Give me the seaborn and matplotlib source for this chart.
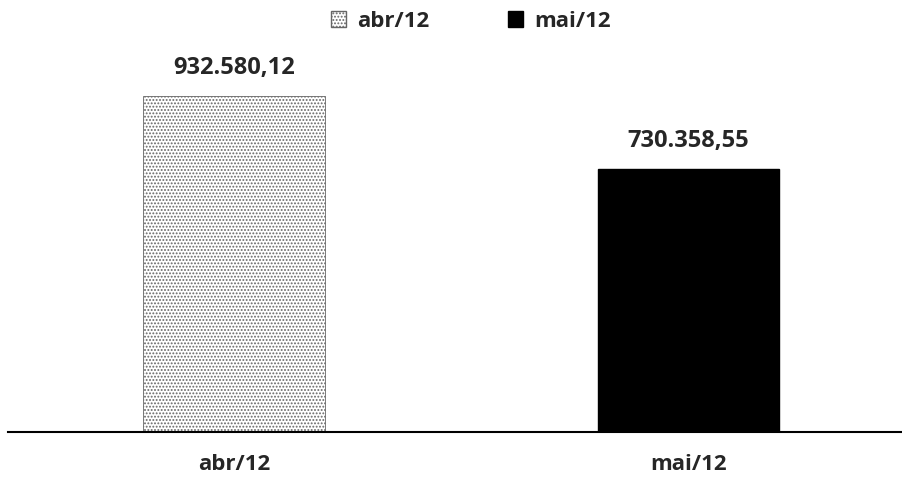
import pandas as pd
import seaborn as sns
import matplotlib.pyplot as plt
from matplotlib.patches import Patch

# dados
meses = ["abr/12", "mai/12"]
valores = [932580.12, 730358.55]


def fmt_br(v):
    s = f"{v:,.2f}"
    return s.replace(",", "X").replace(".", ",").replace("X", ".")


df = pd.DataFrame({"Mes": meses, "Valor": valores})

sns.set_theme(style="white")
plt.rcParams['font.family'] = ['Open Sans', 'DejaVu Sans']
plt.rcParams['hatch.linewidth'] = 0.9

fig = plt.figure(figsize=(9.02, 4.79), dpi=100)
ax = fig.add_axes([0.0089, 0.098, 0.9911, 0.7516])

sns.barplot(data=df, x="Mes", y="Valor", hue="Mes", palette=["white", "black"],
            width=0.40, dodge=False, legend=False, ax=ax, saturation=1)

patches = ax.patches
patches[0].set_hatch(".....")
patches[0].set_edgecolor("#666666")
patches[0].set_linewidth(0.6)
patches[1].set_edgecolor("black")

for p, v in zip(patches, valores):
    ax.text(p.get_x() + p.get_width() / 2, v + 45000, fmt_br(v),
            ha="center", va="bottom", fontsize=17, fontweight="bold")

ax.set_ylim(0, 1000000)
ax.set_xlim(-0.498, 1.47)
ax.set_xlabel("")
ax.set_ylabel("")
ax.set_yticks([])
ax.tick_params(axis="x", length=0, pad=16, labelsize=16)
for lbl in ax.get_xticklabels():
    lbl.set_fontweight("bold")
for s in ["top", "right", "left"]:
    ax.spines[s].set_visible(False)
ax.spines["bottom"].set_color("black")
ax.spines["bottom"].set_linewidth(1.5)

handles = [Patch(facecolor="white", edgecolor="#666666", hatch=".....", label=meses[0]),
           Patch(facecolor="black", edgecolor="black", label=meses[1])]
fig.legend(handles=handles, loc="center", bbox_to_anchor=(0.522, 0.955), ncol=2,
           frameon=False, prop={"weight": "bold", "size": 16},
           handlelength=0.7, handleheight=0.7, handletextpad=0.5, columnspacing=3.5)

fig.savefig("out.png", dpi=100)
